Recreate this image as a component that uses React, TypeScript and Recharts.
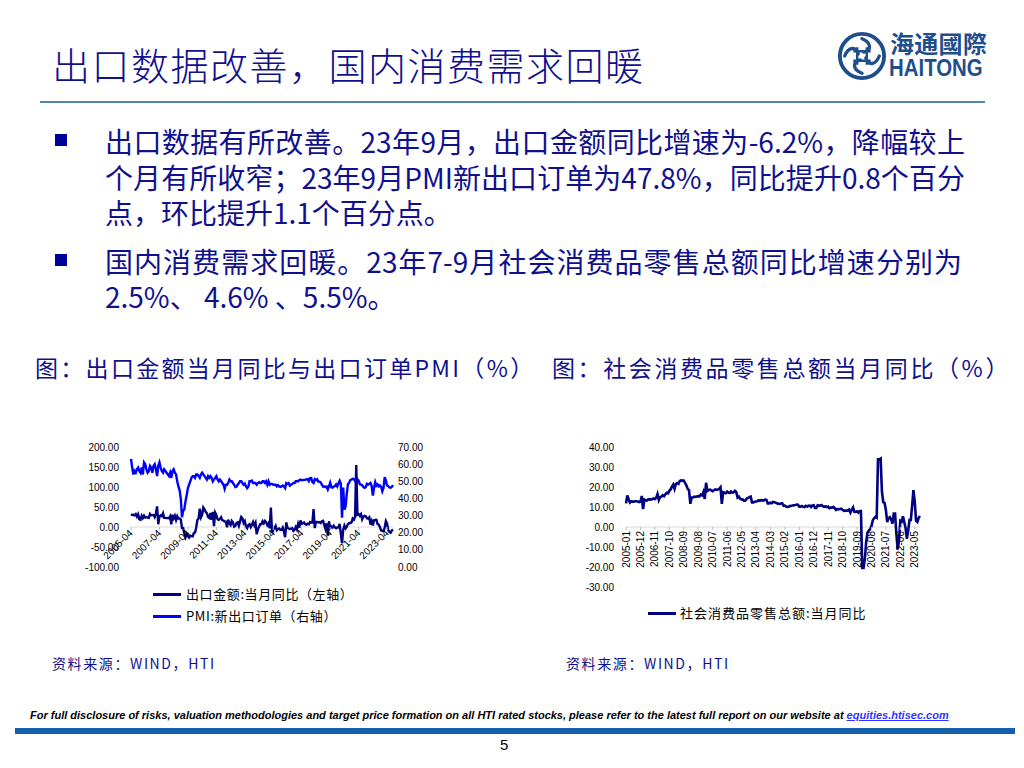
import React from 'react';
import { LineChart, Line, XAxis, YAxis, ReferenceLine } from 'recharts';

// month labels "YYYY-MM" starting at a given month
const monthsFrom = (year: number, month: number, count: number) => {
  const out: string[] = [];
  for (let i = 0; i < count; i++) {
    const m = month - 1 + i;
    const y = year + Math.floor(m / 12);
    out.push(`${y}-${String((m % 12) + 1).padStart(2, '0')}`);
  }
  return out;
};

const exportMonths = monthsFrom(2005, 4, 222); // 2005-04 .. 2023-09
const retailMonths = monthsFrom(2005, 1, 225); // 2005-01 .. 2023-09

// 出口金额:当月同比 (%), left axis
const exportYoY = [
  32.0, 30.1, 30.6, 29.1, 32.2, 25.9, 31.5, 19.6, 18.1, // 2005 (Apr-Dec)
  28.1, 22.2, 28.2, 23.5, 24.8, 23.2, 22.6, 32.8, 29.4, 29.8, 30.0, 24.6, // 2006
  33.0, 51.7, 6.9, 26.8, 28.8, 27.1, 34.2, 22.7, 22.7, 22.3, 22.8, 21.7, // 2007
  26.7, 6.5, 30.6, 21.8, 28.1, 17.6, 26.9, 21.1, 21.5, 19.2, -2.2, -2.8, // 2008
  -17.5, -25.7, -17.1, -22.6, -26.4, -21.4, -23.0, -23.4, -15.2, -13.8, -1.2, 17.7, // 2009
  21.0, 45.7, 24.3, 30.5, 48.5, 43.9, 38.1, 34.4, 25.1, 22.9, 34.9, 17.9, // 2010
  37.7, 2.3, 35.8, 29.9, 19.4, 17.9, 20.4, 24.5, 17.1, 15.9, 13.8, 13.4, // 2011
  -0.5, 18.4, 8.9, 4.9, 15.3, 11.3, 1.0, 2.7, 9.9, 11.6, 2.9, 14.1, // 2012
  25.0, 21.8, 10.0, 14.7, 1.0, -3.1, 5.1, 7.2, -0.3, 5.6, 12.7, 4.3, // 2013
  10.6, -18.1, -6.6, 0.9, 7.0, 7.2, 14.5, 9.4, 15.3, 11.6, 4.7, 9.7, // 2014
  -3.3, 48.3, -15.0, -6.4, -2.5, 2.8, -8.3, -5.5, -3.7, -6.9, -6.8, -1.4, // 2015
  -11.2, -25.4, 11.5, -1.8, -4.1, -4.8, -4.4, -2.8, -10.0, -7.3, 0.1, -6.1, // 2016
  7.9, -1.3, 16.4, 8.0, 8.7, 11.3, 7.2, 5.5, 8.1, 6.9, 12.3, 10.9, // 2017
  11.1, 44.5, -2.7, 12.9, 12.6, 11.2, 12.2, 9.8, 14.5, 15.6, 5.4, -4.4, // 2018
  9.1, -20.7, 14.2, -2.7, 1.1, -1.3, 3.3, -1.0, -3.2, -0.9, -1.1, 7.9, // 2019
  -17.2, -40.6, -6.6, 3.5, -3.3, 0.5, 7.2, 9.5, 9.9, 11.4, 21.1, 18.1, // 2020
  24.9, 154.9, 30.6, 32.3, 27.9, 32.2, 19.3, 25.6, 28.1, 27.1, 22.0, 20.9, // 2021
  24.1, 6.2, 14.7, 3.9, 16.9, 17.9, 18.0, 7.1, 5.7, -0.3, -8.7, -9.9, // 2022
  -10.5, -1.3, 14.8, 8.5, -7.5, -12.4, -14.5, -8.8, -6.2, // 2023 (Jan-Sep)
];

// PMI:新出口订单, right axis
const pmiExport = [
  63.0, 58.0, 54.0, 56.0, 55.0, 57.0, 58.0, 56.0, 55.0, // 2005
  58.0, 54.0, 61.0, 60.0, 57.0, 55.0, 56.0, 59.0, 58.0, 55.0, 59.0, 60.0, // 2006
  57.0, 53.0, 59.0, 61.0, 58.0, 56.0, 55.0, 57.0, 56.0, 55.0, 54.0, 53.0, // 2007
  55.0, 52.0, 56.0, 57.0, 55.0, 54.0, 50.0, 47.0, 44.7, 39.9, 29.0, 32.8, // 2008
  33.7, 38.4, 42.0, 46.0, 48.0, 50.0, 52.0, 53.0, 53.0, 52.0, 54.0, 54.0, // 2009
  53.0, 52.0, 54.0, 55.0, 54.0, 53.0, 52.0, 51.0, 53.0, 52.0, 53.0, 52.0, // 2010
  50.0, 51.0, 52.0, 53.0, 51.0, 50.0, 51.0, 50.0, 49.0, 48.0, 45.6, 48.0, // 2011
  48.0, 49.0, 51.0, 50.0, 50.0, 49.0, 48.0, 46.6, 46.8, 48.0, 49.0, 50.0, // 2012
  50.0, 49.0, 48.0, 48.6, 47.0, 46.0, 47.0, 50.0, 50.0, 50.4, 49.0, 49.0, // 2013
  49.0, 48.0, 49.0, 49.5, 49.0, 49.0, 50.0, 50.0, 49.0, 50.0, 48.0, 50.0, // 2014
  48.0, 48.5, 48.5, 48.0, 48.0, 48.0, 47.0, 47.7, 47.0, 46.7, 47.0, 47.5, // 2015
  47.0, 46.0, 49.0, 48.5, 49.0, 47.5, 48.0, 48.5, 49.0, 49.0, 50.0, 50.0, // 2016
  50.0, 50.7, 51.0, 50.6, 50.7, 50.8, 50.9, 51.1, 51.3, 50.1, 51.8, 51.9, // 2017
  49.5, 49.0, 51.3, 50.7, 51.2, 49.8, 49.8, 49.4, 48.0, 46.9, 47.0, 46.6, // 2018
  46.9, 45.2, 47.1, 49.2, 46.5, 46.3, 46.9, 47.2, 48.2, 47.0, 48.8, 50.3, // 2019
  48.7, 28.7, 46.4, 33.5, 35.3, 42.6, 48.4, 49.1, 50.8, 51.0, 51.5, 51.3, // 2020
  50.2, 48.8, 51.2, 50.4, 48.3, 48.1, 47.7, 46.7, 46.2, 46.6, 48.5, 48.1, // 2021
  48.4, 49.0, 47.2, 41.6, 46.2, 49.5, 47.4, 48.1, 47.0, 47.6, 46.7, 44.2, // 2022
  46.1, 52.4, 50.4, 47.6, 47.2, 46.4, 46.3, 46.7, 47.8, // 2023
];

// 社会消费品零售总额:当月同比 (%)
const retailYoY = [
  11.8, 15.8, 13.9, 12.2, 12.8, 12.7, 12.7, 12.9, 12.9, 12.8, 12.4, 12.6, // 2005
  15.5, 9.0, 13.7, 13.4, 13.2, 13.9, 13.7, 13.8, 13.9, 14.3, 13.9, 14.6, // 2006
  16.5, 13.5, 15.0, 15.2, 15.9, 15.4, 16.4, 17.1, 16.8, 18.1, 18.8, 20.2, // 2007
  21.2, 19.1, 21.5, 22.0, 21.6, 23.0, 23.3, 23.2, 23.2, 22.0, 20.8, 19.0, // 2008
  18.5, 11.6, 14.7, 14.8, 15.2, 15.0, 15.2, 15.4, 15.3, 16.2, 15.8, 17.5, // 2009
  14.0, 22.1, 18.0, 18.5, 18.7, 18.3, 17.9, 18.4, 18.8, 18.6, 18.7, 19.1, // 2010
  19.9, 11.6, 17.4, 17.1, 16.9, 17.7, 17.2, 17.0, 17.7, 17.2, 17.3, 18.1, // 2011
  17.5, 14.7, 15.2, 14.1, 13.8, 13.7, 13.1, 13.2, 14.2, 14.5, 14.9, 15.2, // 2012
  12.3, 12.3, 12.6, 12.8, 12.9, 13.3, 13.2, 13.4, 13.3, 13.3, 13.7, 13.6, // 2013
  11.8, 11.8, 12.2, 11.9, 12.5, 12.4, 12.2, 11.9, 11.6, 11.5, 11.7, 11.9, // 2014
  10.7, 10.7, 10.2, 10.0, 10.1, 10.6, 10.5, 10.8, 10.9, 11.0, 11.2, 11.1, // 2015
  10.2, 10.2, 10.5, 10.1, 10.0, 10.6, 10.2, 10.6, 10.7, 10.0, 10.8, 10.9, // 2016
  9.5, 9.5, 10.9, 10.7, 10.7, 11.0, 10.4, 10.1, 10.3, 10.0, 10.2, 9.4, // 2017
  9.7, 9.7, 10.1, 9.4, 8.5, 9.0, 8.8, 9.0, 9.2, 8.6, 8.1, 8.2, // 2018
  8.2, 8.2, 8.7, 7.2, 8.6, 9.8, 7.6, 7.5, 7.8, 7.2, 8.0, 8.0, // 2019
  -20.5, -20.5, -15.8, -7.5, -2.8, -1.8, -1.1, 0.5, 3.3, 4.3, 5.0, 4.6, // 2020
  33.8, 33.8, 34.2, 17.7, 12.4, 12.1, 8.5, 2.5, 4.4, 4.9, 3.9, 1.7, // 2021
  6.7, 6.7, -3.5, -11.1, -6.7, 3.1, 2.7, 5.4, 2.5, -0.5, -5.9, -1.8, // 2022
  3.5, 3.5, 10.6, 18.4, 12.7, 3.1, 2.5, 4.6, 5.5, // 2023
];

const leftTicks = [-100, -50, 0, 50, 100, 150, 200];
const rightTicks = [0, 10, 20, 30, 40, 50, 60, 70];
const retailTicks = [-30, -20, -10, 0, 10, 20, 30, 40];

const exportData = exportMonths.map((m, i) => ({ month: m, exp: exportYoY[i], pmi: pmiExport[i] }));
const retailData = retailMonths.map((m, i) => ({ month: m, retail: retailYoY[i] }));

const NAVY = '#10108F';
const AXIS_FONT = '"Liberation Sans", Arial, sans-serif';
const CJK = '"Noto Sans CJK SC", "Noto Sans", sans-serif';

// x tick drawn on the zero line instead of the chart bottom
const MonthTick = (props: any) => {
  const { x, y, payload, drop, angle } = props;
  const ty = y - drop;
  if (angle === -90) {
    return (
      <g transform={`translate(${x},${ty})`}>
        <line x1={0} x2={0} y1={0} y2={3} stroke="#BFBFBF" />
        <text transform="rotate(-90)" x={-4} y={0} dy="0.35em" textAnchor="end"
          fontSize={10} fontFamily={AXIS_FONT} fill="#000">{payload.value}</text>
      </g>
    );
  }
  return (
    <g transform={`translate(${x},${ty})`}>
      <line x1={0} x2={0} y1={0} y2={3} stroke="#BFBFBF" />
      <text transform="rotate(-45)" x={-3} y={3} dy="0.35em" textAnchor="end"
        fontSize={10} fontFamily={AXIS_FONT} fill="#000">{payload.value}</text>
    </g>
  );
};

const fmt2 = (v: number) => v.toFixed(2);
const yTick = { fontSize: 10, fill: '#000', fontFamily: AXIS_FONT };

const abs = (left: number, top: number, extra: React.CSSProperties = {}): React.CSSProperties => ({
  position: 'absolute', left, top, whiteSpace: 'nowrap', ...extra,
});

const bodyText: React.CSSProperties = { fontFamily: CJK, fontSize: 28, lineHeight: '34px', color: NAVY };

const Logo = () => (
  <svg width={50} height={50} viewBox="0 0 52 52" style={abs(837, 31)}>
    <circle cx={26} cy={26} r={23} fill="none" stroke="#1F4E8C" strokeWidth={4} />
    <path d="M26 8 C36 12 36 20 28 22 M26 44 C16 40 16 32 24 30 M8 26 C12 16 20 16 22 24 M44 26 C40 36 32 36 30 28"
      fill="none" stroke="#1F4E8C" strokeWidth={3.5} strokeLinecap="round" />
    <path d="M21 17 V35 M31 17 V35 M17 21 H35 M17 31 H35" stroke="#1F4E8C" strokeWidth={2.5} />
  </svg>
);

export default function App() {
  return (
    <div style={{ position: 'absolute', left: 0, top: 0, width: 1024, height: 768, background: '#fff', overflow: 'hidden' }}>
      {/* title */}
      <div style={abs(52, 42, { fontFamily: CJK, fontSize: 38, lineHeight: '44px', letterSpacing: 1.5, color: NAVY, fontWeight: 300 })}>
        出口数据改善，国内消费需求回暖
      </div>
      <Logo />
      <div style={abs(890, 31, { fontFamily: CJK, fontSize: 24, lineHeight: '24px', fontWeight: 700, color: '#1F4E8C', letterSpacing: 0.3 })}>
        海通國際
      </div>
      <div style={abs(889, 57, { fontFamily: AXIS_FONT, fontSize: 24, lineHeight: '22px', fontWeight: 700, color: '#1F4E8C', transform: 'scaleX(0.85)', transformOrigin: 'left' })}>
        HAITONG
      </div>
      <div style={abs(40, 101, { width: 945, height: 2, background: '#4F87B5' })} />

      {/* bullets */}
      <div style={abs(55, 134, { width: 12, height: 12, background: '#000099' })} />
      <div style={abs(55, 254, { width: 12, height: 12, background: '#000099' })} />
      <div style={abs(105, 124, { ...bodyText, width: 860, textAlign: 'justify', textAlignLast: 'justify' })}>
        出口数据有所改善。23年9月，出口金额同比增速为-6.2%，降幅较上
      </div>
      <div style={abs(105, 160, { ...bodyText, width: 860, textAlign: 'justify', textAlignLast: 'justify' })}>
        个月有所收窄；23年9月PMI新出口订单为47.8%，同比提升0.8个百分
      </div>
      <div style={abs(105, 195, bodyText)}>点，环比提升1.1个百分点。</div>
      <div style={abs(105, 244, { ...bodyText, width: 857, textAlign: 'justify', textAlignLast: 'justify' })}>
        国内消费需求回暖。23年7-9月社会消费品零售总额同比增速分别为
      </div>
      <div style={abs(105, 279, bodyText)}>2.5%、 4.6% 、5.5%。</div>

      {/* captions */}
      <div style={abs(35, 353, { fontFamily: CJK, fontSize: 23, lineHeight: '28px', color: NAVY, letterSpacing: 2.3 })}>
        图：出口金额当月同比与出口订单PMI（%）
      </div>
      <div style={abs(552, 353, { fontFamily: CJK, fontSize: 23, lineHeight: '28px', color: NAVY, letterSpacing: 2.6 })}>
        图：社会消费品零售总额当月同比（%）
      </div>

      {/* left chart */}
      <div style={abs(80, 437)}>
        <LineChart width={360} height={140} data={exportData} margin={{ top: 10, right: 0, bottom: 0, left: 0 }}>
          <XAxis dataKey="month" interval={23} axisLine={false} tickLine={false} tickSize={0} tickMargin={0} height={10}
            tick={(p: any) => <MonthTick {...p} drop={40} angle={-45} />} />
          <YAxis yAxisId="left" domain={[-100, 200]} ticks={leftTicks} interval={0} tickFormatter={fmt2}
            axisLine={false} tickLine={false} tickSize={0} tickMargin={12} width={51} tick={yTick} />
          <YAxis yAxisId="right" orientation="right" domain={[0, 70]} ticks={rightTicks} interval={0} tickFormatter={fmt2}
            axisLine={false} tickLine={false} tickSize={0} tickMargin={5} width={47} tick={{ ...yTick, textAnchor: 'start' }} />
          <ReferenceLine yAxisId="left" y={0} stroke="#D9D9D9" strokeWidth={1} />
          <Line yAxisId="right" type="linear" dataKey="pmi" stroke="#0000FF" strokeWidth={2.4} dot={false} isAnimationActive={false} />
          <Line yAxisId="left" type="linear" dataKey="exp" stroke="#000080" strokeWidth={2.4} dot={false} isAnimationActive={false} />
        </LineChart>
      </div>
      <div style={abs(153, 593, { width: 28, height: 3, background: '#000080' })} />
      <div style={abs(186, 586, { fontFamily: CJK, fontSize: 13, lineHeight: '16px', color: '#000', letterSpacing: 0.6 })}>
        出口金额:当月同比（左轴）
      </div>
      <div style={abs(153, 615, { width: 28, height: 3, background: '#0000FF' })} />
      <div style={abs(186, 608, { fontFamily: CJK, fontSize: 13, lineHeight: '16px', color: '#000', letterSpacing: 0.6 })}>
        PMI:新出口订单（右轴）
      </div>

      {/* right chart */}
      <div style={abs(580, 437)}>
        <LineChart width={360} height={160} data={retailData} margin={{ top: 10, right: 20, bottom: 0, left: 0 }}>
          <XAxis dataKey="month" interval={10} axisLine={false} tickLine={false} tickSize={0} tickMargin={0} height={10}
            tick={(p: any) => <MonthTick {...p} drop={60} angle={-90} />} />
          <YAxis domain={[-30, 40]} ticks={retailTicks} interval={0} tickFormatter={fmt2}
            axisLine={false} tickLine={false} tickSize={0} tickMargin={12} width={46} tick={yTick} />
          <ReferenceLine y={0} stroke="#D9D9D9" strokeWidth={1} />
          <Line type="linear" dataKey="retail" stroke="#000080" strokeWidth={2.6} dot={false} isAnimationActive={false} />
        </LineChart>
      </div>
      <div style={abs(648, 612, { width: 28, height: 3, background: '#000080' })} />
      <div style={abs(680, 605, { fontFamily: CJK, fontSize: 13, lineHeight: '16px', color: '#000', letterSpacing: 1 })}>
        社会消费品零售总额:当月同比
      </div>

      {/* sources */}
      <div style={abs(52, 655, { fontFamily: CJK, fontSize: 14, lineHeight: '17px', color: NAVY, letterSpacing: 1.6 })}>
        资料来源：WIND，HTI
      </div>
      <div style={abs(566, 655, { fontFamily: CJK, fontSize: 14, lineHeight: '17px', color: NAVY, letterSpacing: 1.6 })}>
        资料来源：WIND，HTI
      </div>

      {/* footer */}
      <div style={abs(30, 708, { fontFamily: AXIS_FONT, fontSize: 11, lineHeight: '14px', fontStyle: 'italic', fontWeight: 700, color: '#000' })}>
        For full disclosure of risks, valuation methodologies and target price formation on all HTI rated stocks, please refer to the latest full report on our website at{' '}
        <span style={{ color: '#3333FF', textDecoration: 'underline' }}>equities.htisec.com</span>
      </div>
      <div style={abs(15, 728, { width: 1000, height: 6, background: '#1560AC' })} />
      <div style={abs(500, 736, { fontFamily: AXIS_FONT, fontSize: 15, lineHeight: '18px', color: '#000' })}>5</div>
    </div>
  );
}
